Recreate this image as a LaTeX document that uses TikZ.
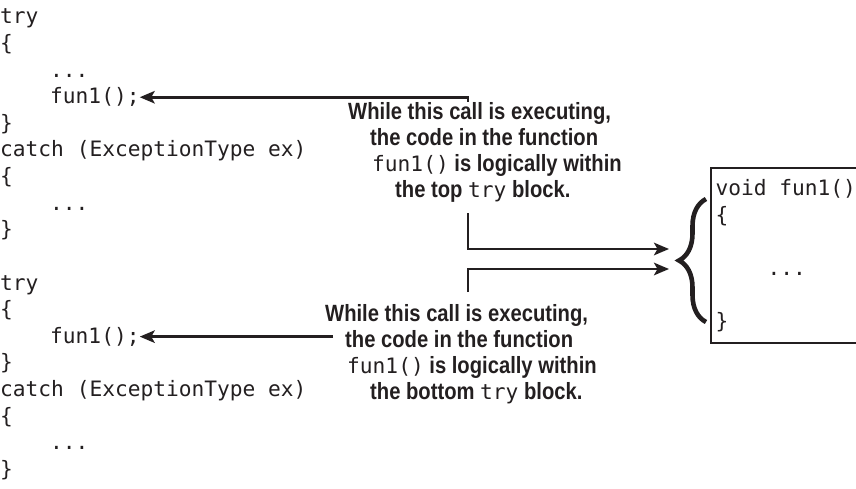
\documentclass[tikz,border=0pt]{standalone}
\usepackage{fontspec}
\usepackage{xcolor}
\usepackage{tikz}
\usetikzlibrary{arrows.meta,calc,decorations.pathreplacing}
\newfontfamily\codefont{DejaVu Sans Mono}
\newfontfamily\notefont[FakeStretch=0.86]{Liberation Sans}
\definecolor{ink}{HTML}{231F20}
\newcommand{\codesize}{\codefont\fontsize{21.2}{26.5}\selectfont}
\newcommand{\notesize}{\notefont\bfseries\fontsize{23.5}{26}\selectfont}
\newcommand{\codeword}[1]{{\codefont\mdseries\fontsize{21.2}{26}\selectfont #1}}
\tikzset{
  codeline/.style={anchor=base west, inner sep=0pt, text=ink, font=\codesize},
  notetext/.style={anchor=north west, align=left, inner sep=0pt, text=ink, font=\notesize},
  callarrow/.style={-{Stealth[length=15pt,width=12.5pt,inset=3.5pt]}, line width=2.6pt, draw=ink},
  funcbox/.style={draw=ink, line width=2.2pt, anchor=north west, align=left, inner xsep=4.5pt, minimum height=175pt, text=ink, font=\codesize},
  bracemark/.style={decorate, decoration={brace, amplitude=27pt}, line width=4.6pt, draw=ink}
}

\begin{document}
\begin{tikzpicture}[x=1pt, y=-1pt]
\useasboundingbox (0,0) rectangle (856,489);
\clip (0,0) rectangle (856,489);
\node[codeline] (try1) at (0,24) {try};
\node[codeline] (open1) at (0,50.6) {\{};
\node[codeline] (dots1) at (50,77.2) {...};
\node[codeline] (fun1a) at (50,103.8) {fun1();};
\node[codeline] (close1) at (0,130.4) {\}};
\node[codeline] (catch1) at (0,157) {catch (ExceptionType ex)};
\node[codeline] (open2) at (0,183.6) {\{};
\node[codeline] (dots2) at (50,210.2) {...};
\node[codeline] (close2) at (0,236.8) {\}};
\node[codeline] (try2) at (0,290) {try};
\node[codeline] (open3) at (0,316.6) {\{};
\node[codeline] (fun1b) at (50,343.2) {fun1();};
\node[codeline] (close3) at (0,369.8) {\}};
\node[codeline] (catch2) at (0,396.4) {catch (ExceptionType ex)};
\node[codeline] (open4) at (0,423) {\{};
\node[codeline] (dots3) at (50,449.6) {...};
\node[codeline] (close4) at (0,476.2) {\}};
\node[notetext] (topnote) at (348,102) {While this call is executing,\\\hspace*{22pt}the code in the function\\\hspace*{24pt}\codeword{fun1()} is logically within\\\hspace*{47pt}the top \codeword{try} block.};
\node[notetext] (botnote) at (325,304) {While this call is executing,\\\hspace*{20pt}the code in the function\\\hspace*{22pt}\codeword{fun1()} is logically within\\\hspace*{45pt}the bottom \codeword{try} block.};
\node[funcbox] (funbox) at (710,167) {void fun1()\\\{\\\mbox{}\\\hspace*{52pt}...\\\mbox{}\\\}};
\coordinate (entrytop) at (669,249);
\coordinate (entrybot) at (669,269);
\draw[bracemark] (706,322) -- (706,199);
\draw[callarrow] ([xshift=120pt]topnote.north west) |- (fun1a.east);
\draw[callarrow] ([xshift=8pt]botnote.west |- fun1b.east) -- (fun1b.east);
\draw[callarrow] ([xshift=120pt,yshift=-11pt]topnote.south west) |- (entrytop);
\draw[callarrow] ([xshift=143pt,yshift=12pt]botnote.north west) |- (entrybot);
\end{tikzpicture}
\end{document}
